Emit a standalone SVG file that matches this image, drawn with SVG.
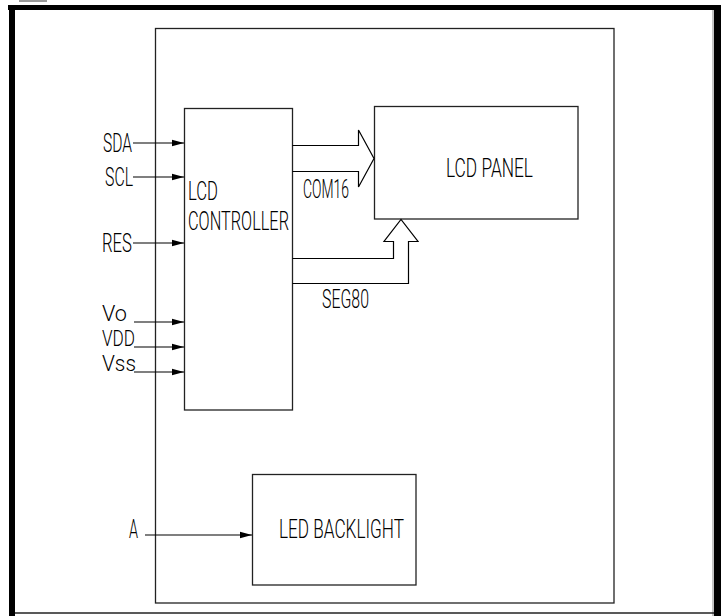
<svg xmlns="http://www.w3.org/2000/svg" width="726" height="616" viewBox="0 0 726 616">
<style>
.box{fill:none;stroke:#222;stroke-width:1.3}
.ln{fill:none;stroke:#000;stroke-width:1.2}
.t{font-family:Roboto,"Liberation Sans",sans-serif;font-weight:300;font-size:25px;fill:#000}
.s{font-size:22px}
</style>
<defs>
<marker id="ah" markerUnits="userSpaceOnUse" markerWidth="13" markerHeight="8" refX="12" refY="4" orient="auto">
<path d="M0,0.8 L12,4 L0,7.2 Z" fill="#000"/>
</marker>
</defs>
<rect x="0" y="0" width="726" height="616" fill="#fff"/>
<g id="frame">
<rect x="19" y="0" width="28" height="2" fill="#999"/>
<rect x="8" y="5" width="713" height="5" fill="#000"/>
<rect x="9" y="5" width="6" height="611" fill="#000"/>
<rect x="714" y="10" width="7" height="606" fill="#000"/>
<line x1="713" y1="10" x2="713" y2="616" stroke="#888" stroke-width="1"/>
<line x1="15" y1="613" x2="714" y2="613" stroke="#222" stroke-width="1.5"/>
</g>
<g id="module"><rect class="box" x="155.5" y="28.5" width="458.5" height="574.5"/></g>
<g id="controller">
<rect class="box" x="184.5" y="108.5" width="108" height="301.5"/>
<text class="t" x="188" y="200" textLength="30" lengthAdjust="spacingAndGlyphs">LCD</text>
<text class="t" x="188" y="230" textLength="101" lengthAdjust="spacingAndGlyphs">CONTROLLER</text>
</g>
<g id="panel">
<rect class="box" x="374.5" y="106.5" width="203.5" height="112.5"/>
<text class="t" x="446" y="177" textLength="87" lengthAdjust="spacingAndGlyphs">LCD PANEL</text>
</g>
<g id="backlight">
<rect class="box" x="252.5" y="474.5" width="163.5" height="110.5"/>
<text class="t" x="279" y="538" textLength="125" lengthAdjust="spacingAndGlyphs">LED BACKLIGHT</text>
</g>
<g id="connectors">
<line class="ln" x1="133" y1="143" x2="184" y2="143" marker-end="url(#ah)"/>
<line class="ln" x1="133" y1="177" x2="184" y2="177" marker-end="url(#ah)"/>
<line class="ln" x1="133" y1="243" x2="184" y2="243" marker-end="url(#ah)"/>
<line class="ln" x1="134" y1="322" x2="184" y2="322" marker-end="url(#ah)"/>
<line class="ln" x1="134" y1="347" x2="184" y2="347" marker-end="url(#ah)"/>
<line class="ln" x1="134" y1="372" x2="184" y2="372" marker-end="url(#ah)"/>
<line class="ln" x1="145" y1="535" x2="252" y2="535" marker-end="url(#ah)"/>
<path class="ln" d="M292.5,145.5 H358.5 V130 L374,158.5 L358.5,187 V171.5 H292.5"/>
<path class="ln" d="M292.5,258.5 H393.5 V241.5 H384 L401,219.5 L418,241.5 H408.5 V283.5 H292.5"/>
</g>
<g id="labels">
<text class="t" x="103" y="152" textLength="29" lengthAdjust="spacingAndGlyphs">SDA</text>
<text class="t" x="105" y="186" textLength="28" lengthAdjust="spacingAndGlyphs">SCL</text>
<text class="t" x="102" y="252" textLength="30" lengthAdjust="spacingAndGlyphs">RES</text>
<text class="t s" x="102" y="321" textLength="25" lengthAdjust="spacingAndGlyphs">Vo</text>
<text class="t s" x="102" y="346" textLength="33" lengthAdjust="spacingAndGlyphs">VDD</text>
<text class="t s" x="102" y="371" textLength="34" lengthAdjust="spacingAndGlyphs">Vss</text>
<text class="t" x="303" y="198" textLength="46" lengthAdjust="spacingAndGlyphs">COM16</text>
<text class="t" x="322" y="308" textLength="47" lengthAdjust="spacingAndGlyphs">SEG80</text>
<text class="t" x="129" y="538" textLength="9" lengthAdjust="spacingAndGlyphs">A</text>
</g>
</svg>
